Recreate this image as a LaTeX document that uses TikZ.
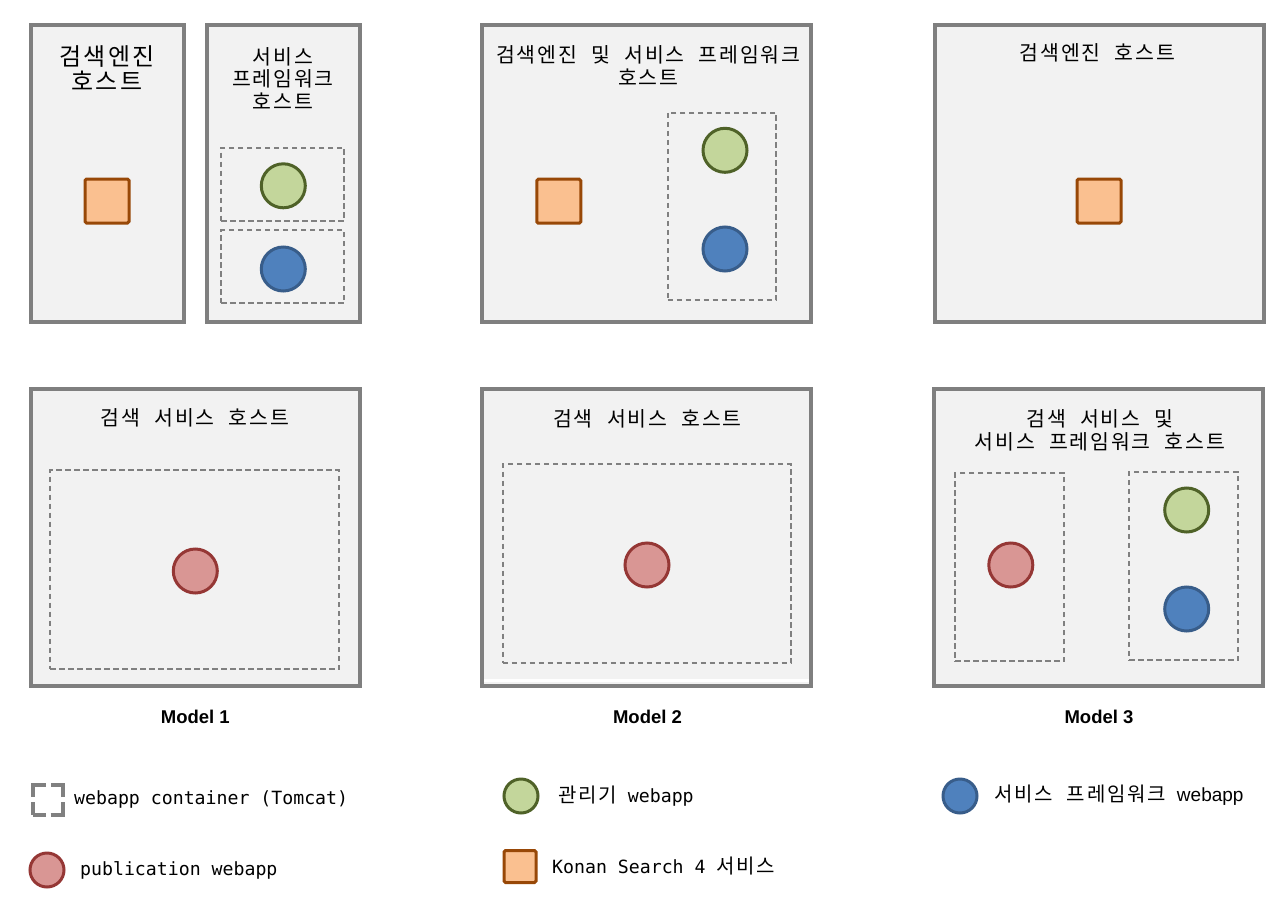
\documentclass[tikz,border=0pt]{standalone}
\usepackage{fontspec}
\usepackage{tikz}
\usetikzlibrary{shapes}
\usepackage{xcolor}
\newfontfamily\hangul{Noto Sans CJK KR}[WordSpace=2.2,LetterSpace=9]
\newfontfamily\tmono{DejaVu Sans Mono}
\newfontfamily\tsans{Liberation Sans}
\newcommand\kor[1]{{\hangul\fontsize{20}{22}\selectfont #1}}
\definecolor{hostline}{HTML}{7F7F7F}
\definecolor{hostfill}{HTML}{F2F2F2}
\definecolor{tomcatline}{HTML}{808080}
\definecolor{konanline}{HTML}{984807}
\definecolor{konanfill}{HTML}{FAC090}
\definecolor{mgrline}{HTML}{4F6228}
\definecolor{mgrfill}{HTML}{C3D69B}
\definecolor{fwline}{HTML}{385D8A}
\definecolor{fwfill}{HTML}{4F81BD}
\definecolor{publine}{HTML}{953735}
\definecolor{pubfill}{HTML}{D99694}

\begin{document}
\begin{tikzpicture}[x=1pt,y=-1pt,
  host/.style={draw=hostline,line width=4pt,fill=hostfill,inner sep=0pt,minimum height=297pt},
  tomcat/.style={draw=tomcatline,line width=2pt,dash pattern=on 5.5pt off 3.5pt,inner sep=0pt},
  konan/.style={draw=konanline,fill=konanfill,line width=3pt,rounded corners=1.5pt,minimum size=44pt,inner sep=0pt},
  mgr/.style={circle,draw=mgrline,fill=mgrfill,line width=3pt,minimum size=44pt,inner sep=0pt},
  fw/.style={circle,draw=fwline,fill=fwfill,line width=3pt,minimum size=44pt,inner sep=0pt},
  pub/.style={circle,draw=publine,fill=pubfill,line width=3pt,minimum size=44pt,inner sep=0pt},
  hosttitle/.style={font=\hangul\fontsize{20.5}{22.5}\selectfont,align=center,inner sep=0pt},
  model/.style={font=\tsans\bfseries\fontsize{18.5}{20}\selectfont,inner sep=0pt},
  lgtext/.style={font=\tmono\fontsize{18.2}{20}\selectfont,anchor=west,inner sep=0pt}]
\fill[white] (0,0) rectangle (1286,913);
\node[host,minimum width=153pt] (engA) at (107,173.8) {};
\node[host,minimum width=153pt] (fwB) at (283,173.8) {};
\node[host,minimum width=329pt] (engFwC) at (646.7,173.8) {};
\node[host,minimum width=329pt] (engD) at (1099,173.8) {};
\node[host,minimum width=329pt] (srchE) at (195,537.8) {};
\node[host,minimum width=329pt] (srchF) at (646.7,537.8) {};
\node[host,minimum width=329pt] (srchFwG) at (1098.7,537.8) {};
\fill[white] (484,678.5) rectangle (809,682);
\node[hosttitle,font=\hangul\fontsize{24}{25}\selectfont] (tA) at (107,68.5) {검색엔진\\호스트};
\node[hosttitle] (tB) at (283,78.5) {서비스\\프레임워크\\호스트};
\node[hosttitle] (tC) at (648.3,65.3) {검색엔진 및 서비스 프레임워크\\호스트};
\node[hosttitle] (tD) at (1097.5,52.5) {검색엔진 호스트};
\node[hosttitle] (tE) at (195,417.5) {검색 서비스 호스트};
\node[hosttitle] (tF) at (647.5,419) {검색 서비스 호스트};
\node[hosttitle] (tG) at (1100,430.3) {검색 서비스 및\\서비스 프레임워크 호스트};
\node[tomcat,minimum width=123pt,minimum height=73pt] (tcB1) at (282.5,184.2) {};
\node[tomcat,minimum width=123pt,minimum height=73pt] (tcB2) at (282.5,266.7) {};
\node[tomcat,minimum width=108.8pt,minimum height=187.2pt] (tcC) at (722,206.2) {};
\node[tomcat,minimum width=288.9pt,minimum height=198.9pt] (tcE) at (194.7,569.7) {};
\node[tomcat,minimum width=288.2pt,minimum height=199.2pt] (tcF) at (646.7,563.8) {};
\node[tomcat,minimum width=108.9pt,minimum height=188.2pt] (tcG1) at (1009.7,567.3) {};
\node[tomcat,minimum width=108.9pt,minimum height=188.2pt] (tcG2) at (1183.7,566) {};
\node[konan] (konA) at (107,201) {};
\node[konan] (konC) at (558.8,201.2) {};
\node[konan] (konD) at (1099,201) {};
\node[mgr] (mgrB) at (283.3,185.8) {};
\node[mgr] (mgrC) at (725,150.3) {};
\node[mgr] (mgrG) at (1186.7,510) {};
\node[fw] (fwappB) at (283.3,269) {};
\node[fw] (fwappC) at (725,249) {};
\node[fw] (fwappG) at (1186.7,609) {};
\node[pub] (pubE) at (195.3,571) {};
\node[pub] (pubF) at (647,565) {};
\node[pub] (pubG) at (1010.8,565) {};
\node[model] (m1) at (195.3,716.7) {Model 1};
\node[model] (m2) at (647.5,717) {Model 2};
\node[model] (m3) at (1099,717) {Model 3};
\node[tomcat,line width=4pt,dash pattern=on 25pt off 5pt,dash phase=12.5pt,minimum size=30pt] (lgTomcat) at (48,799.5) {};
\node[pub,minimum size=34pt] (lgPub) at (47,870) {};
\node[mgr,minimum size=34pt] (lgMgr) at (521,796) {};
\node[konan,minimum size=32pt] (lgKonan) at (520,866.5) {};
\node[fw,minimum size=34pt] (lgFw) at (960,796) {};
\node[lgtext] (lgTomcatTxt) at (74,799.5) {webapp container (Tomcat)};
\node[lgtext] (lgPubTxt) at (80,870) {publication webapp};
\node[lgtext] (lgMgrTxt) at (558,796.5) {\kor{관리기}\ webapp};
\node[lgtext] (lgKonanTxt) at (552,866) {Konan Search 4 \kor{서비스}};
\node[lgtext] (lgFwTxt) at (994,795) {\kor{서비스 프레임워크} {\tsans\fontsize{19}{20}\selectfont webapp}};
\end{tikzpicture}
\end{document}
